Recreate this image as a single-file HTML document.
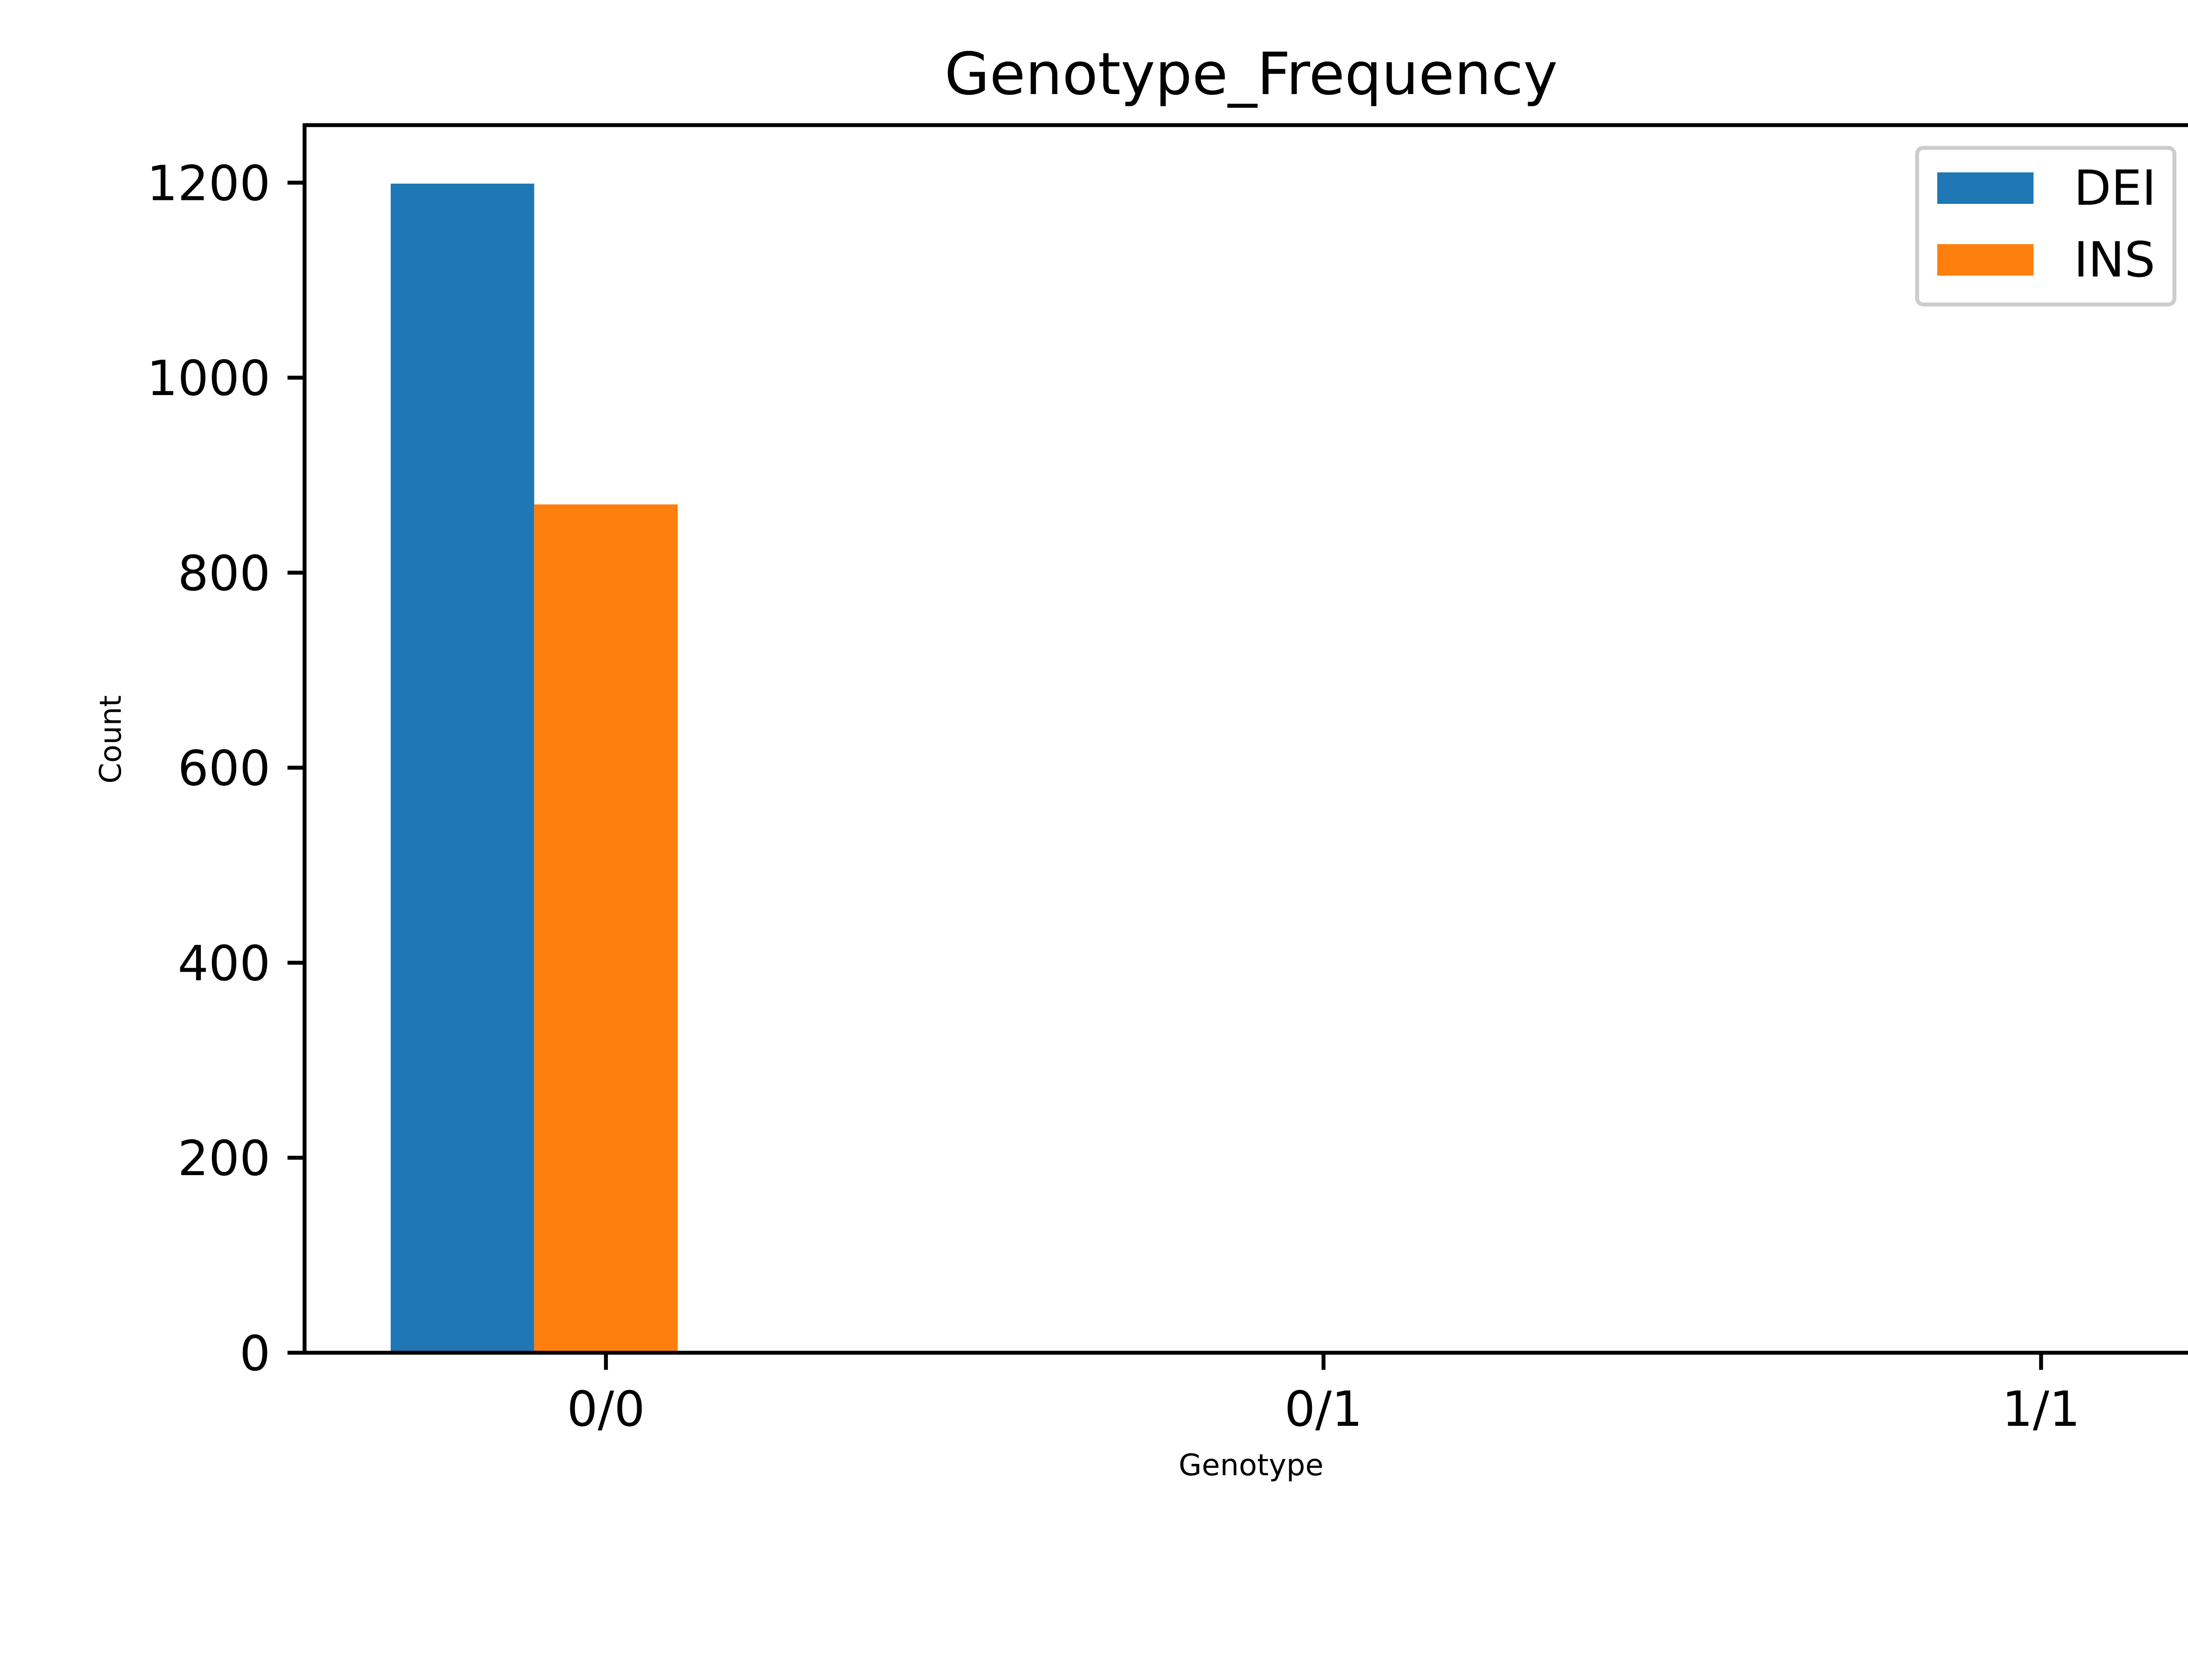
<!DOCTYPE html>
<html><head><meta charset="utf-8"><style>
html,body{margin:0;padding:0;background:#fff}
svg{display:block;font-family:"DejaVu Sans","Liberation Sans",sans-serif}
</style></head><body>
<svg id="chart" width="5120" height="3840" viewBox="0 0 5120 3840" xmlns="http://www.w3.org/2000/svg">
<rect width="5120" height="3840" fill="#fff"/>
<text x="2859" y="215" font-size="133" text-anchor="middle">Genotype_Frequency</text>
<text x="2859" y="3372" font-size="68" text-anchor="middle">Genotype</text>
<text x="0" y="0" font-size="68" text-anchor="middle" transform="translate(276,1690) rotate(-90)">Count</text>
<g id="bars"></g>
<g id="ticks"></g>
<rect x="696" y="286" width="4329" height="2806" fill="none" stroke="#000" stroke-width="8.9"/>
<g>
<rect x="4381" y="338" width="588" height="358" rx="14" fill="#fff" fill-opacity="0.8" stroke="#ccc" stroke-width="8.9"/>
<rect x="4427" y="394" width="220" height="72" fill="#1f77b4"/>
<text x="4739" y="468" font-size="111">DEI</text>
<rect x="4427" y="558" width="220" height="72" fill="#ff7f0e"/>
<text x="4739" y="632" font-size="111">INS</text>
</g>
</svg>
<script>
const categories = ["0/0", "0/1", "1/1"];
const delValues = [1199, 0, 0];
const insValues = [870, 0, 0];
const yTicks = [0, 200, 400, 600, 800, 1000, 1200];

const L = 696, R = 5025, T = 286, B = 3092;
const xMin = -0.42, xMax = 2.22, yMax = 1259;
const xs = v => L + (v - xMin) / (xMax - xMin) * (R - L);
const ys = v => B - v / yMax * (B - T);
const NS = "http://www.w3.org/2000/svg";
const bars = document.getElementById("bars");
const ticks = document.getElementById("ticks");
function mk(tag, attrs, parent) {
  const e = document.createElementNS(NS, tag);
  for (const k in attrs) e.setAttribute(k, attrs[k]);
  parent.appendChild(e);
  return e;
}
categories.forEach((c, i) => {
  const b1 = mk("rect", {x: xs(i - 0.3), y: ys(delValues[i]), width: xs(i - 0.1) - xs(i - 0.3), height: ys(0) - ys(delValues[i]), fill: "#1f77b4"}, bars);
  
  
  const b2 = mk("rect", {x: xs(i - 0.1), y: ys(insValues[i]), width: xs(i + 0.1) - xs(i - 0.1), height: ys(0) - ys(insValues[i]), fill: "#ff7f0e"}, bars);
  
  
  const tl = mk("line", {x1: xs(i), x2: xs(i), y1: B, y2: B + 39, stroke: "#000", "stroke-width": 8.9}, ticks);
  
  
  const tt = mk("text", {x: xs(i), y: 3259, "font-size": 111, "text-anchor": "middle"}, ticks);
  tt.textContent = c;
  
  
});
yTicks.forEach(v => {
  const tl = mk("line", {x1: L - 39, x2: L, y1: ys(v), y2: ys(v), stroke: "#000", "stroke-width": 8.9}, ticks);
  
  
  const tt = mk("text", {x: 618, y: ys(v) + 40, "font-size": 111, "text-anchor": "end"}, ticks);
  tt.textContent = v;
  
  
});
</script>
</body></html>
